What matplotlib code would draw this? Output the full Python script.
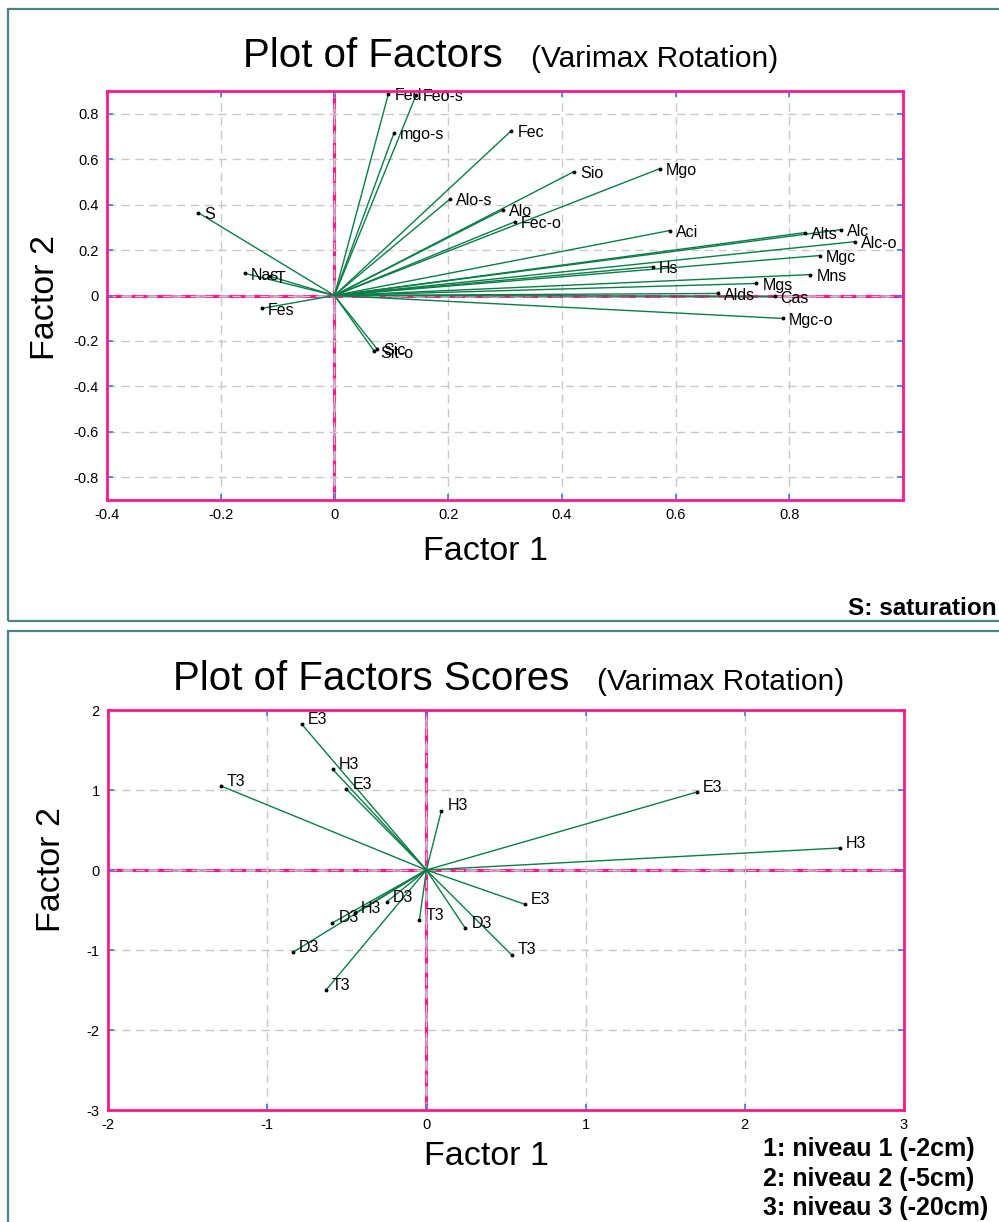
import matplotlib
matplotlib.use("Agg")
import matplotlib.pyplot as plt
from matplotlib.patches import Rectangle

plt.rcParams['font.family'] = ['Liberation Sans', 'DejaVu Sans']

# ---------------- data ----------------
load_labels = ["Fed", "Feo-s", "mgo-s", "Fec", "Alo-s", "Alo", "Fec-o", "Sio", "Mgo", "Aci",
               "Alts", "Alc", "Alc-o", "Mgc", "Hs", "Mns", "Mgs", "Alds", "Cas", "Mgc-o",
               "S", "Nas", "T", "Fes", "Sic", "Sit-o"]
load_f1 = [0.095, 0.144, 0.105, 0.311, 0.204, 0.297, 0.318, 0.421, 0.572, 0.590,
           0.828, 0.891, 0.916, 0.854, 0.560, 0.837, 0.742, 0.674, 0.774, 0.789,
           -0.240, -0.157, -0.114, -0.128, 0.075, 0.070]
load_f2 = [0.888, 0.884, 0.717, 0.725, 0.426, 0.378, 0.325, 0.545, 0.558, 0.286,
           0.277, 0.290, 0.237, 0.176, 0.127, 0.092, 0.053, 0.009, -0.004, -0.101,
           0.365, 0.097, 0.085, -0.057, -0.235, -0.245]

score_labels = ["E3", "H3", "E3", "T3", "H3", "E3", "D3", "T3",
                "T3", "D3", "H3", "D3", "D3", "T3", "E3", "H3"]
score_f1 = [-0.784, -0.589, -0.502, -1.29, 0.094, 0.62, 0.245, 0.535,
            -0.044, -0.25, -0.45, -0.59, -0.84, -0.63, 1.70, 2.595]
score_f2 = [1.825, 1.26, 1.01, 1.05, 0.74, -0.43, -0.73, -1.06,
            -0.625, -0.40, -0.54, -0.66, -1.03, -1.50, 0.975, 0.275]

top_xticks = [-0.4, -0.2, 0, 0.2, 0.4, 0.6, 0.8]
top_xticklabels = ["-0.4", "-0.2", "0", "0.2", "0.4", "0.6", "0.8"]
top_yticks = [-0.8, -0.6, -0.4, -0.2, 0, 0.2, 0.4, 0.6, 0.8]
top_yticklabels = ["-0.8", "-0.6", "-0.4", "-0.2", "0", "0.2", "0.4", "0.6", "0.8"]
bot_xticks = [-2, -1, 0, 1, 2, 3]
bot_yticks = [-3, -2, -1, 0, 1, 2]

legend_lines = ["1: niveau 1 (-2cm)", "2: niveau 2 (-5cm)", "3: niveau 3 (-20cm)"]

# ---------------- layout ----------------
W, H = 999, 1222
fig = plt.figure(figsize=(W / 100, H / 100), dpi=100)

def fx(x):
    return x / W

def fy(y):
    return 1 - y / H

PINK = '#ff1a8c'
ZERO_BG = '#d98cbf'
GREEN = '#0b7d47'
TICKBLUE = '#2a7fff'
TEAL = '#4a8585'

# panel frames
fig.patches.append(Rectangle((fx(8), fy(621)), 1.05, (621 - 9) / H, transform=fig.transFigure,
                             fill=False, edgecolor=TEAL, lw=1.6, clip_on=False))
fig.patches.append(Rectangle((fx(8), fy(1240)), 1.05, (1240 - 631) / H, transform=fig.transFigure,
                             fill=False, edgecolor=TEAL, lw=1.6, clip_on=False))


def style_axes(ax, xlim, ylim, xticks, yticks, xtl, ytl):
    ax.set_xlim(*xlim)
    ax.set_ylim(*ylim)
    ax.set_xticks(xticks)
    ax.set_yticks(yticks)
    ax.set_xticklabels(xtl)
    ax.set_yticklabels(ytl)
    ax.grid(True, color='#c8c8c8', linestyle=(0, (6, 4)), lw=1.0, zorder=0)
    for s in ax.spines.values():
        s.set_color(PINK)
        s.set_linewidth(2)
        s.set_zorder(5)
    ax.tick_params(direction='in', length=4, width=1.2, color=TICKBLUE, labelsize=10.5,
                   top=True, right=True, pad=6)
    ax.axhline(0, color=ZERO_BG, lw=2.2, zorder=1)
    ax.axvline(0, color=ZERO_BG, lw=2.2, zorder=1)
    ax.axhline(0, color=PINK, lw=2.2, linestyle=(0, (5, 3)), zorder=1.5)
    ax.axvline(0, color=PINK, lw=2.2, linestyle=(0, (5, 3)), zorder=1.5)


# ---------- top: factor loadings ----------
ax1 = fig.add_axes([fx(107), fy(500), (903 - 107) / W, (500 - 91) / H])
style_axes(ax1, (-0.4, 1.0), (-0.9, 0.9), top_xticks, top_yticks, top_xticklabels, top_yticklabels)
for lab, x, y in zip(load_labels, load_f1, load_f2):
    ax1.plot([0, x], [0, y], color=GREEN, lw=1.0, zorder=2, solid_capstyle='butt')
    ax1.plot([x], [y], 'o', color='black', ms=1.8, zorder=3)
    ax1.annotate(lab, (x, y), xytext=(6, -2), textcoords='offset pixels',
                 fontsize=11.5, va='center', ha='left', zorder=4, annotation_clip=False)

fig.text(fx(243), fy(67), "Plot of Factors", fontsize=29, va='baseline', ha='left')
fig.text(fx(531), fy(67), "(Varimax Rotation)", fontsize=21.5, va='baseline', ha='left')
fig.text(fx(423), fy(560), "Factor 1", fontsize=24.5, va='baseline', ha='left')
fig.text(fx(46), fy(297), "Factor 2", fontsize=24.5, va='center', ha='center', rotation=90)
fig.text(fx(997), fy(615), "S: saturation", fontsize=17.5, fontweight='bold',
         va='baseline', ha='right')

# ---------- bottom: factor scores ----------
ax2 = fig.add_axes([fx(108), fy(1110), (904 - 108) / W, (1110 - 710) / H])
style_axes(ax2, (-2, 3), (-3, 2), bot_xticks, bot_yticks,
           [str(v) for v in bot_xticks], [str(v) for v in bot_yticks])
for lab, x, y in zip(score_labels, score_f1, score_f2):
    ax2.plot([0, x], [0, y], color=GREEN, lw=1.0, zorder=2, solid_capstyle='butt')
    ax2.plot([x], [y], 'o', color='black', ms=1.8, zorder=3)
    ax2.annotate(lab, (x, y), xytext=(6, 5), textcoords='offset pixels',
                 fontsize=11.5, va='center', ha='left', zorder=4, annotation_clip=False)

fig.text(fx(173), fy(690), "Plot of Factors Scores", fontsize=29, va='baseline', ha='left')
fig.text(fx(597), fy(690), "(Varimax Rotation)", fontsize=21.5, va='baseline', ha='left')
fig.text(fx(424), fy(1165), "Factor 1", fontsize=24.5, va='baseline', ha='left')
fig.text(fx(51), fy(870), "Factor 2", fontsize=24.5, va='center', ha='center', rotation=90)

for txt, yb in zip(legend_lines, [1156, 1186, 1215]):
    fig.text(fx(763), fy(yb), txt, fontsize=18, fontweight='bold', va='baseline', ha='left')

fig.savefig("out.png", dpi=100)
